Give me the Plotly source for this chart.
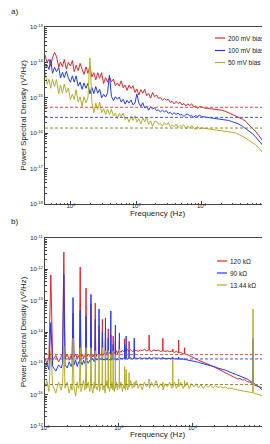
import numpy as np
import plotly.graph_objects as go

# ---------------- Panel a data (log10 of PSD, V^2/Hz) ----------------
freq_a = [40, 43, 46, 49, 52, 56, 60, 65, 69, 74,
          79, 85, 91, 98, 105, 112, 120, 129, 138, 148,
          158, 170, 182, 195, 209, 224, 240, 257, 275, 295,
          316, 339, 363, 389, 417, 447, 479, 513, 550, 589,
          631, 676, 724, 776, 832, 891, 955, 1023, 1096, 1175,
          1259, 1349, 1445, 1549, 1660, 1778, 1905, 2042, 2188, 2344,
          2512, 2692, 2884, 3090, 3311, 3548, 3802, 4074, 4365, 4677,
          5012, 5370, 5754, 6166, 6607, 7079, 7586, 8128, 8710, 9333,
          10000, 11000, 12500, 14000, 16000, 18000, 20000, 23000, 26000, 29000,
          33000, 37000, 42000, 47000, 53000, 60000, 67000, 75000, 85000, 95000,
          100000, 110000]

red_a_log = [-13.78, -14.01, -13.91, -14.11, -13.87, -13.72, -13.83, -14.13, -13.99, -14.12,
             -13.92, -14.19, -14.0, -14.1, -13.95, -14.26, -14.08, -14.23, -14.03, -14.21,
             -14.34, -14.13, -14.31, -14.11, -14.41, -14.29, -14.49, -14.29, -14.45, -14.29,
             -14.6, -14.43, -14.56, -14.41, -14.55, -14.47, -14.66, -14.58, -14.67, -14.52,
             -14.72, -14.64, -14.79, -14.64, -14.74, -14.66, -14.85, -14.75, -14.92, -14.77,
             -14.87, -14.76, -14.94, -14.88, -15.01, -14.85, -14.97, -14.92, -15.02, -14.99,
             -15.07, -15.02, -15.07, -15.04, -15.13, -15.1, -15.17, -15.1, -15.16, -15.12,
             -15.2, -15.16, -15.23, -15.17, -15.22, -15.17, -15.26, -15.23, -15.3, -15.24,
             -15.27, -15.29, -15.3, -15.31, -15.32, -15.34, -15.35, -15.38, -15.42, -15.46,
             -15.5, -15.54, -15.6, -15.66, -15.75, -15.85, -15.95, -16.06, -16.2, -16.32,
             -16.38, -16.48]

blue_a_log = [-14.17, -14.07, -14.2, -13.92, -14.31, -14.14, -14.26, -14.14, -14.44, -14.28,
              -14.43, -14.25, -14.43, -14.56, -14.38, -14.56, -14.38, -14.67, -14.56, -14.76,
              -14.58, -14.73, -14.59, -14.89, -14.71, -14.88, -14.68, -14.87, -14.76, -15.0,
              -14.9, -14.98, -14.86, -14.36, -14.96, -15.08, -14.97, -15.04, -14.98, -15.12,
              -15.04, -15.18, -15.07, -15.15, -15.06, -15.2, -15.15, -14.89, -15.14, -15.25,
              -15.14, -15.29, -15.23, -15.35, -15.25, -15.32, -15.28, -15.36, -15.34, -15.4,
              -15.35, -15.4, -15.36, -15.44, -15.41, -15.47, -15.42, -15.47, -15.43, -15.49,
              -15.47, -15.53, -15.47, -15.46, -15.52, -15.5, -15.55, -15.5, -15.53, -15.49,
              -15.53, -15.54, -15.55, -15.56, -15.57, -15.59, -15.6, -15.62, -15.64, -15.67,
              -15.7, -15.74, -15.8, -15.86, -15.93, -16.01, -16.1, -16.2, -16.32, -16.45,
              -16.52, -16.63]

olive_a_log = [-14.25, -14.62, -14.48, -14.73, -14.48, -14.68, -14.49, -14.89, -14.64, -14.87,
               -14.61, -14.86, -14.72, -15.05, -14.9, -15.05, -14.77, -15.12, -14.97, -15.24,
               -14.97, -15.14, -14.99, -13.88, -15.12, -15.42, -15.15, -15.33, -15.12, -15.42,
               -15.31, -15.47, -15.32, -15.47, -15.32, -15.52, -15.43, -15.59, -15.44, -15.53,
               -15.43, -15.62, -15.55, -15.69, -15.52, -15.64, -15.51, -15.69, -15.59, -15.74,
               -15.57, -15.68, -15.55, -15.75, -15.65, -15.81, -15.67, -15.66, -15.75, -15.72,
               -15.8, -15.7, -15.77, -15.7, -15.81, -15.76, -15.82, -15.74, -15.84, -15.78,
               -15.81, -15.76, -15.88, -15.8, -15.86, -15.78, -15.85, -15.9, -15.81, -15.88,
               -15.85, -15.86, -15.87, -15.88, -15.9, -15.91, -15.92, -15.94, -15.95, -15.97,
               -15.99, -16.03, -16.08, -16.13, -16.2, -16.26, -16.32, -16.41, -16.52, -16.64,
               -16.72, -16.84]

names_a = ["200 mV bias", "100 mV bias", "50 mV bias"]
levels_a = [5.4e-16, 2.8e-16, 1.4e-16]

# ---------------- Panel b data ----------------
freq_b = [100, 106, 113, 120, 127, 140, 153, 166, 173, 180,
          187, 200, 213, 226, 233, 240, 247, 260, 273, 286,
          293, 300, 307, 320, 333, 346, 353, 360, 367, 385,
          405, 413, 420, 427, 445, 465, 473, 480, 487, 510,
          533, 540, 547, 570, 593, 600, 607, 633, 654, 660,
          666, 690, 714, 720, 726, 750, 773, 780, 787, 810,
          833, 840, 847, 870, 893, 900, 907, 935, 960, 990,
          1013, 1020, 1027, 1070, 1120, 1160, 1193, 1200, 1207, 1230,
          1253, 1260, 1267, 1320, 1373, 1380, 1387, 1450, 1530, 1610,
          1620, 1630, 1720, 1830, 1950, 2080, 2220, 2380, 2560, 2580,
          2600, 2780, 2980, 3200, 3430, 3680, 3940, 3960, 3980, 4250,
          4550, 4900, 5250, 5380, 5400, 5420, 5700, 6050, 6460, 6480,
          6500, 6900, 7400, 7780, 7800, 7820, 8400, 9000, 9700, 10400,
          11200, 12000, 13000, 14000, 15000, 16200, 17500, 19000, 20500, 22000,
          24000, 26000, 28000, 30000, 32500, 35000, 38000, 41000, 44000, 47500,
          51000, 55000, 59000, 63000, 65500, 66000, 66500, 70000, 75000, 80000,
          86000, 92000, 100000]

red_b_log = [-14.85, -15.0, -14.8, -12.18, -14.9, -14.75, -14.95, -14.8, -14.7, -11.45,
             -14.85, -14.7, -14.9, -14.75, -14.85, -13.4, -14.8, -14.7, -14.85, -14.75,
             -14.85, -11.93, -14.8, -14.7, -14.85, -14.75, -14.7, -12.6, -14.8, -14.7,
             -14.75, -14.8, -13.1, -14.7, -14.8, -14.7, -14.75, -13.08, -14.8, -14.7,
             -14.75, -13.8, -14.7, -14.75, -14.65, -13.6, -14.75, -14.7, -14.65, -14.0,
             -14.7, -14.65, -14.75, -13.9, -14.7, -14.65, -14.7, -14.1, -14.65, -14.7,
             -14.65, -14.13, -14.7, -14.65, -14.7, -14.3, -14.65, -14.6, -14.7, -14.62,
             -14.65, -14.3, -14.6, -14.65, -14.58, -14.63, -14.6, -14.22, -14.62, -14.58,
             -14.62, -14.5, -14.6, -14.56, -14.62, -14.3, -14.6, -14.57, -14.62, -14.6,
             -14.55, -14.6, -14.58, -14.62, -14.57, -14.6, -14.55, -14.6, -14.57, -14.1,
             -14.58, -14.62, -14.57, -14.6, -14.58, -14.62, -14.6, -14.2, -14.6, -14.62,
             -14.6, -14.63, -14.6, -14.62, -14.55, -14.63, -14.65, -14.62, -14.66, -14.26,
             -14.67, -14.65, -14.7, -14.68, -14.5, -14.7, -14.72, -14.75, -14.78, -14.82,
             -14.86, -14.9, -14.93, -14.97, -15.0, -15.02, -15.06, -15.1, -15.14, -15.2,
             -15.22, -15.28, -15.3, -15.36, -15.38, -15.44, -15.46, -15.5, -15.48, -15.54,
             -15.52, -15.58, -15.6, -15.63, -15.65, -15.3, -15.66, -15.7, -15.73, -15.76,
             -15.78, -15.8, -15.45]

blue_b_log = [-15.15, -15.0, -15.2, -13.7, -15.1, -15.25, -15.05, -15.15, -15.0, -12.17,
              -15.05, -15.15, -14.95, -15.1, -15.0, -12.9, -15.05, -14.9, -15.1, -14.95,
              -15.0, -13.3, -14.95, -15.05, -14.9, -15.0, -14.95, -13.5, -14.9, -15.0,
              -14.9, -14.95, -12.8, -14.9, -14.85, -14.95, -14.9, -13.6, -14.85, -14.9,
              -14.85, -13.27, -14.9, -14.85, -14.9, -14.0, -14.85, -14.9, -14.85, -13.55,
              -14.9, -14.85, -14.9, -14.2, -14.85, -14.9, -14.85, -13.33, -14.9, -14.85,
              -14.85, -14.4, -14.9, -14.85, -14.88, -13.78, -14.85, -14.9, -14.85, -14.88,
              -14.85, -14.03, -14.88, -14.83, -14.87, -14.84, -14.86, -14.4, -14.84, -14.87,
              -14.85, -14.13, -14.84, -14.86, -14.83, -14.6, -14.85, -14.82, -14.86, -14.84,
              -14.2, -14.84, -14.83, -14.85, -14.82, -14.85, -14.83, -14.84, -14.85, -14.8,
              -14.83, -14.85, -14.82, -14.84, -14.83, -14.85, -14.83, -14.8, -14.84, -14.85,
              -14.84, -14.85, -14.84, -14.86, -14.8, -14.85, -14.86, -14.85, -14.87, -14.8,
              -14.86, -14.87, -14.86, -14.88, -14.85, -14.88, -14.89, -14.9, -14.92, -14.93,
              -14.95, -14.97, -14.99, -15.0, -15.02, -15.05, -15.07, -15.1, -15.12, -15.15,
              -15.17, -15.2, -15.22, -15.25, -15.28, -15.32, -15.35, -15.37, -15.4, -15.43,
              -15.46, -15.5, -15.55, -15.6, -15.62, -14.2, -15.63, -15.66, -15.7, -15.76,
              -15.83, -15.9, -16.0]

olive_b_log = [-15.75, -15.55, -15.9, -14.6, -15.7, -15.95, -15.6, -15.85, -15.65, -14.45,
               -15.8, -15.6, -15.95, -15.7, -15.85, -14.2, -15.75, -16.05, -15.6, -15.8,
               -15.65, -14.5, -15.9, -15.7, -15.55, -15.85, -15.7, -14.5, -15.8, -15.6,
               -15.9, -15.65, -14.5, -15.75, -15.95, -15.6, -15.8, -14.6, -15.7, -15.85,
               -15.65, -14.7, -15.9, -15.75, -15.6, -14.5, -15.85, -15.7, -15.95, -14.6,
               -15.75, -15.55, -15.8, -14.6, -15.7, -15.9, -15.65, -14.7, -15.8, -15.6,
               -15.85, -14.6, -15.7, -15.9, -15.65, -14.7, -15.8, -15.6, -15.85, -15.7,
               -15.65, -14.55, -15.8, -15.6, -15.9, -15.7, -15.8, -15.1, -15.65, -15.85,
               -15.7, -15.2, -15.6, -15.85, -15.65, -15.3, -15.75, -15.55, -15.8, -15.7,
               -15.6, -15.75, -15.55, -15.8, -15.65, -15.85, -15.6, -15.75, -15.65, -15.5,
               -15.8, -15.6, -15.75, -15.55, -15.8, -15.65, -15.75, -15.6, -15.85, -15.65,
               -15.75, -15.6, -15.8, -15.7, -14.9, -15.75, -15.6, -15.8, -15.65, -15.5,
               -15.75, -15.6, -15.8, -15.7, -15.55, -15.75, -15.6, -15.8, -15.65, -15.75,
               -15.65, -15.78, -15.68, -15.8, -15.7, -15.76, -15.7, -15.78, -15.72, -15.77,
               -15.74, -15.78, -15.75, -15.8, -15.79, -15.82, -15.83, -15.85, -15.86, -15.88,
               -15.89, -15.9, -15.92, -15.93, -15.94, -13.27, -15.94, -15.96, -15.98, -16.0,
               -16.02, -16.05, -16.08]

names_b = ["120 k\u03a9", "90 k\u03a9", "13.44 k\u03a9"]
levels_b = [1.9e-15, 1.38e-15, 2.1e-16]

# tick exponents
x_exps = [2, 3, 4, 5]
ya_exps = [-13, -14, -15, -16, -17, -18]
yb_exps = [-11, -12, -13, -14, -15, -16, -17]

# ---------------- Styling ----------------
COLORS = ["#e8232b", "#1f3cff", "#b5ae2a"]
DASH_COLORS = ["#dd4a4a", "#4a58d8", "#8f8a2a"]
FONT = "Arial, 'Liberation Sans', sans-serif"

W, H = 270, 444
ML, MR, MT, MB = 37, 8, 19, 26
PW, PH = W - ML - MR, H - MT - MB


def px_x(px):
    return (px - ML) / PW


def px_y(py):
    return (H - MB - py) / PH


def pw(vals):
    return [10 ** v for v in vals]


def ticks(exps):
    return dict(tickmode="array", tickvals=[10.0 ** e for e in exps],
                ticktext=["10<sup>%d</sup>" % e for e in exps])


fig = go.Figure()

for name, vals, col in zip(names_a, [red_a_log, blue_a_log, olive_a_log], COLORS):
    fig.add_trace(go.Scatter(x=freq_a, y=pw(vals), mode="lines", name=name,
                             line=dict(color=col, width=1.0), showlegend=False,
                             xaxis="x", yaxis="y"))

for name, vals, col in zip(names_b, [red_b_log, blue_b_log, olive_b_log], COLORS):
    fig.add_trace(go.Scatter(x=freq_b, y=pw(vals), mode="lines", name=name,
                             line=dict(color=col, width=1.0), showlegend=False,
                             xaxis="x2", yaxis="y2"))

shapes = []
annotations = []
for lev, col in zip(levels_a, DASH_COLORS):
    shapes.append(dict(type="line", xref="x domain", yref="y", x0=0, x1=1, y0=lev, y1=lev,
                       line=dict(color=col, width=1, dash="3px,2px")))
for lev, col in zip(levels_b, DASH_COLORS):
    shapes.append(dict(type="line", xref="x2 domain", yref="y2", x0=0, x1=1, y0=lev, y1=lev,
                       line=dict(color=col, width=1, dash="3px,2px")))

# compact legends (line sample + text), one per panel
legend_specs = [
    (names_a, [30, 42.5, 54.5], 207, 217, 219),
    (names_b, [253, 265, 277], 209, 219, 221),
]
for names, ys, lx0, lx1, tx in legend_specs:
    for name, yy, col in zip(names, ys, COLORS):
        shapes.append(dict(type="line", xref="paper", yref="paper",
                           x0=px_x(lx0), x1=px_x(lx1), y0=px_y(yy), y1=px_y(yy),
                           line=dict(color=col, width=1.2)))
        annotations.append(dict(text=name, xref="paper", yref="paper",
                                x=px_x(tx), y=px_y(yy), xanchor="left", yanchor="middle",
                                showarrow=False, borderpad=0,
                                font=dict(size=6.5, color="#222")))

annotations.append(dict(text="a)", xref="paper", yref="paper", x=px_x(1), y=px_y(4),
                        xanchor="left", yanchor="middle", showarrow=False, font=dict(size=8)))
annotations.append(dict(text="b)", xref="paper", yref="paper", x=px_x(1), y=px_y(213),
                        xanchor="left", yanchor="middle", showarrow=False, font=dict(size=8)))

axis_common = dict(type="log", showline=True, linecolor="#444", linewidth=1, mirror=True,
                   ticks="inside", ticklen=3, tickcolor="#444", tickwidth=1,
                   showgrid=False, zeroline=False,
                   tickfont=dict(size=6, color="#222", family=FONT),
                   minor=dict(ticks="inside", ticklen=1.5, tickcolor="#444", dtick="D1"),
                   automargin=False)

fig.update_layout(
    width=W, height=H,
    margin=dict(l=ML, r=MR, t=MT, b=MB),
    paper_bgcolor="white", plot_bgcolor="white",
    font=dict(family=FONT, size=7, color="#222"),
    shapes=shapes,
    annotations=annotations,
    showlegend=False,
    xaxis=dict(axis_common, range=[np.log10(40), np.log10(1.12e5)], domain=[0, 1], anchor="y",
               ticklabelstandoff=-4, **ticks(x_exps),
               title=dict(text="Frequency (Hz)", font=dict(size=8), standoff=1)),
    yaxis=dict(axis_common, range=[-18, -13], domain=[px_y(196), 1], anchor="x",
               **ticks(ya_exps),
               title=dict(text="Power Spectral Density (V\u00b2/Hz)", font=dict(size=8), standoff=2)),
    xaxis2=dict(axis_common, range=[2, 5.05], domain=[0, 1], anchor="y2",
                ticklabelstandoff=-4, **ticks(x_exps),
                title=dict(text="Frequency (Hz)", font=dict(size=8), standoff=1)),
    yaxis2=dict(axis_common, range=[-17, -11], domain=[0, px_y(230)], anchor="x2",
                **ticks(yb_exps),
                title=dict(text="Power Spectral Density (V\u00b2/Hz)", font=dict(size=8), standoff=2)),
)

fig.write_html("out.html")
